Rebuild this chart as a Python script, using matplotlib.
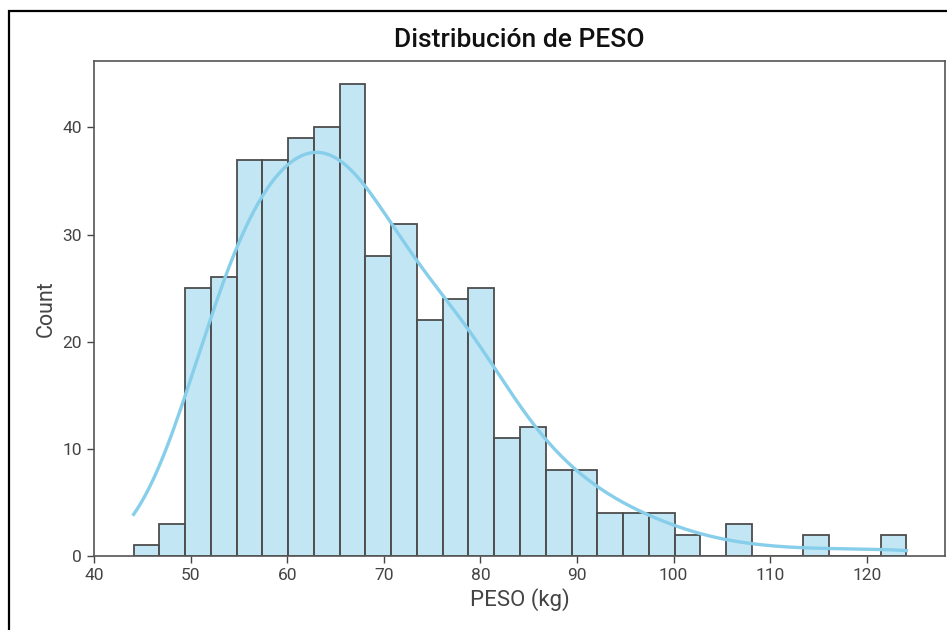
import matplotlib
matplotlib.use('Agg')
import matplotlib.pyplot as plt
import seaborn as sns
import numpy as np
import pandas as pd

# bins: 30 bins from ~44.1 to ~124.1
bin_start = 44.1
bin_end = 124.1
n_bins = 30
counts = [1, 3, 25, 26, 37, 37, 39, 40, 44, 28,
          31, 22, 24, 25, 11, 12, 8, 8, 4, 4,
          4, 2, 0, 3, 0, 0, 2, 0, 0, 2]

edges = np.linspace(bin_start, bin_end, n_bins + 1)
df = pd.DataFrame({'PESO': (edges[:-1] + edges[1:]) / 2, 'n': counts})

plt.rcParams['font.family'] = ['Roboto', 'DejaVu Sans']

fig = plt.figure(figsize=(9.47, 6.3), dpi=100)
ax = fig.add_axes([0.0993, 0.1175, 0.8986, 0.7858])

sns.histplot(data=df, x='PESO', weights='n', bins=n_bins,
             binrange=(bin_start, bin_end), kde=True,
             kde_kws={'bw_adjust': 0.6, 'cut': 3, 'clip': (bin_start, bin_end)},
             color='skyblue', edgecolor='#4d4d4d', linewidth=1.3,
             alpha=0.5, line_kws={'linewidth': 2.4}, ax=ax)
for l in ax.lines:
    l.set_color('skyblue')

ax.set_title('Distribución de PESO', fontsize=19, fontweight='medium', color='#111111', pad=10)
ax.set_xlabel('PESO (kg)', fontsize=16, color='#444444')
ax.set_ylabel('Count', fontsize=15.5, color='#444444')
ax.set_xticks(range(40, 121, 10))
ax.set_yticks(range(0, 41, 10))
ax.tick_params(labelsize=12.5, colors='#444444', length=5, width=1)
for s in ax.spines.values():
    s.set_color('#555555')
    s.set_linewidth(1.2)

# screenshot border
fig.add_artist(plt.Rectangle((9 / 947, -0.01), 1.0, 1 - 11 / 630 + 0.01,
                             transform=fig.transFigure, fill=False,
                             edgecolor='black', linewidth=1.6))

fig.savefig('out.png', dpi=100)
